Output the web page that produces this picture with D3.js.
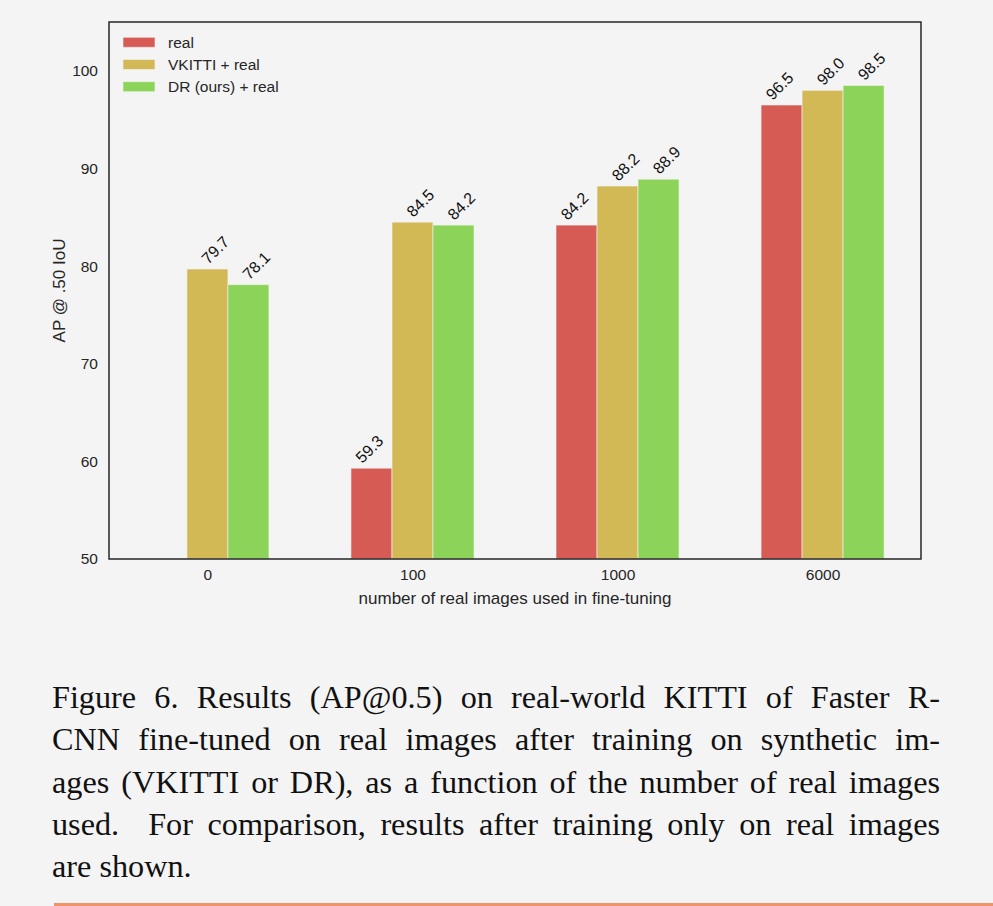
<!DOCTYPE html>
<html>
<head>
<meta charset="utf-8">
<script src="https://cdn.jsdelivr.net/npm/d3@7"></script>
<style>
html,body{margin:0;padding:0;background:#f4f4f4;}
svg{display:block;}
</style>
</head>
<body>
<script>
const categories = ["0", "100", "1000", "6000"];
const seriesNames = ["real", "VKITTI + real", "DR (ours) + real"];
const realValues = [null, 59.3, 84.2, 96.5];
const vkittiValues = [79.7, 84.5, 88.2, 98.0];
const drValues = [78.1, 84.2, 88.9, 98.5];
const yTicks = [50, 60, 70, 80, 90, 100];
const captionLines = [
  "Figure 6. Results (AP@0.5) on real-world KITTI of Faster R-",
  "CNN fine-tuned on real images after training on synthetic im-",
  "ages (VKITTI or DR), as a function of the number of real images",
  "used.  For comparison, results after training only on real images",
  "are shown."
];
const colors = ["#d65b55", "#d3b956", "#8cd459"];
const labelDx = [-2, 8, 8];
const series = [realValues, vkittiValues, drValues];

const W = 993, H = 906;
const svg = d3.select("body").append("svg").attr("width", W).attr("height", H);
svg.append("rect").attr("width", W).attr("height", H).attr("fill", "#f4f4f4");

const pLeft = 109, pRight = 921, pTop = 22, pBottom = 559;
const x = d3.scaleLinear().domain([-0.48, 3.48]).range([pLeft, pRight]);
const y = d3.scaleLinear().domain([50, 105]).range([pBottom, pTop]);
const bw = 0.2;
const font = "'Liberation Sans', Arial, sans-serif";
const ink = "#262626";

// bars
series.forEach((vals, s) => {
  const off = (s - 1) * bw;
  const g = svg.append("g");
  vals.forEach((v, i) => {
    if (v == null) return;
    const x0 = x(i + off - bw / 2), x1 = x(i + off + bw / 2);
    g.append("rect")
      .attr("x", x0).attr("y", y(v))
      .attr("width", x1 - x0).attr("height", y(50) - y(v))
      .attr("fill", colors[s])
      .attr("stroke", "#f4f4f4").attr("stroke-opacity", 0.6).attr("stroke-width", 1);
    const cx = x(i + off) + labelDx[s];
    svg.append("text")
      .attr("transform", `translate(${cx},${y(v) - 19}) rotate(-45)`)
      .attr("text-anchor", "middle")
      .attr("dominant-baseline", "central")
      .attr("font-family", font).attr("font-size", 16).attr("fill", "#111")
      .text(v.toFixed(1));
  });
});

// frame
svg.append("rect").attr("x", pLeft).attr("y", pTop)
  .attr("width", pRight - pLeft).attr("height", pBottom - pTop)
  .attr("fill", "none").attr("stroke", ink).attr("stroke-width", 1.5);

// axes
const yAxis = d3.axisLeft(y).tickValues(yTicks).tickSize(0).tickPadding(11).tickFormat(d3.format("d"));
const ya = svg.append("g").attr("transform", `translate(${pLeft},0)`).call(yAxis);
ya.select(".domain").remove();
ya.selectAll("text").attr("font-family", font).attr("font-size", 15.5).attr("fill", ink);

const xAxis = d3.axisBottom(x).tickValues([0, 1, 2, 3]).tickSize(0).tickPadding(10).tickFormat(i => categories[i]);
const xa = svg.append("g").attr("transform", `translate(0,${pBottom})`).call(xAxis);
xa.select(".domain").remove();
xa.selectAll("text").attr("font-family", font).attr("font-size", 15.5).attr("fill", ink);

svg.append("text").attr("x", (pLeft + pRight) / 2).attr("y", 604)
  .attr("text-anchor", "middle").attr("font-family", font).attr("font-size", 17).attr("fill", ink)
  .text("number of real images used in fine-tuning");
svg.append("text").attr("transform", `translate(65,${(pTop + pBottom) / 2}) rotate(-90)`)
  .attr("text-anchor", "middle").attr("font-family", font).attr("font-size", 17).attr("fill", ink)
  .text("AP @ .50 IoU");

// legend
seriesNames.forEach((n, s) => {
  const yy = 37.3 + s * 22.2;
  svg.append("rect").attr("x", 123).attr("y", yy).attr("width", 32).attr("height", 10)
    .attr("fill", colors[s]).attr("stroke", "#f4f4f4").attr("stroke-opacity", 0.6);
  svg.append("text").attr("x", 168).attr("y", yy + 10.2)
    .attr("font-family", font).attr("font-size", 15.5).attr("fill", ink).text(n);
});

// caption (justified via word spacing)
const capScale = 1.04, capWidth = 888;
captionLines.forEach((t, i) => {
  const tx = svg.append("text")
    .attr("transform", `translate(52,${708 + i * 42.25}) scale(${capScale},1)`)
    .attr("font-family", "'Liberation Serif', 'Times New Roman', serif")
    .attr("font-size", 31).attr("fill", "#111").attr("xml:space", "preserve")
    .style("white-space", "pre").text(t);
  if (i < captionLines.length - 1) {
    const natural = tx.node().getComputedTextLength();
    const spaces = (t.match(/ /g) || []).length;
    if (spaces > 0) tx.attr("word-spacing", (capWidth / capScale - natural) / spaces);
  }
});

// bottom rule
svg.append("rect").attr("x", 54).attr("y", 903).attr("width", W - 54).attr("height", 3).attr("fill", "#ef936a");
</script>
</body>
</html>
